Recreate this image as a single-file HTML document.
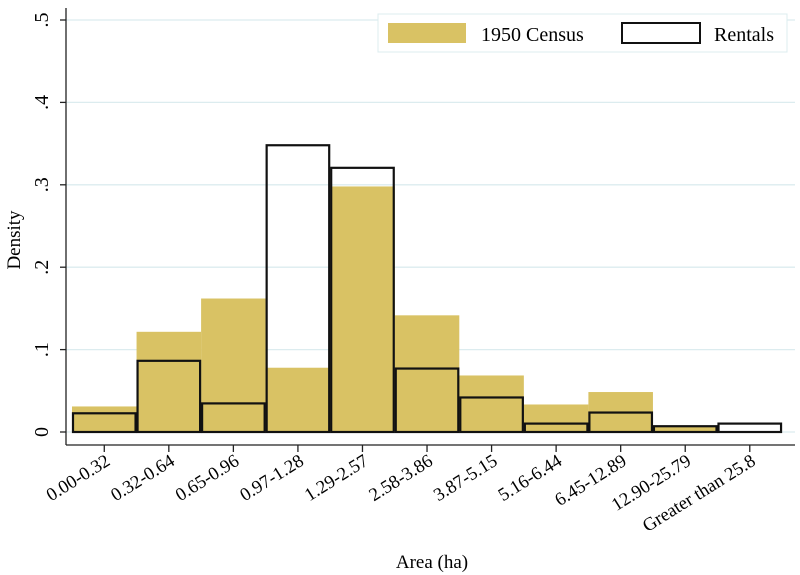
<!DOCTYPE html>
<html><head><meta charset="utf-8"><style>
body{margin:0;background:#fff;}
svg{display:block;font-family:"Liberation Serif",serif;}
</style></head><body>
<svg id="chart" width="800" height="575" viewBox="0 0 800 575">
<g id="grid"></g>
<g id="bars"></g>
<g id="axes"></g>
<g>
<rect x="378" y="14" width="409" height="38" fill="#fff" stroke="#dcecef" stroke-width="1"/>
<rect x="388" y="23" width="78" height="20" fill="#d9c264"/>
<text x="481" y="41" font-size="20">1950 Census</text>
<rect x="622" y="23" width="78" height="20" fill="#fff" stroke="#111" stroke-width="2"/>
<text x="714" y="41" font-size="20">Rentals</text>
</g>
<text x="0" y="0" font-size="19" transform="translate(20,240) rotate(-90)" text-anchor="middle">Density</text>
<text x="432" y="568" font-size="19" text-anchor="middle">Area (ha)</text>
</svg>
<script>
const categories=["0.00-0.32","0.32-0.64","0.65-0.96","0.97-1.28","1.29-2.57","2.58-3.86","3.87-5.15","5.16-6.44","6.45-12.89","12.90-25.79","Greater than 25.8"];
const census=[0.031,0.1216,0.162,0.078,0.298,0.1416,0.0686,0.0334,0.0485,0.008,0];
const rentals=[0.0227,0.0864,0.0347,0.348,0.3206,0.077,0.0419,0.0102,0.0236,0.007,0.0102];
const yTicks=[0,0.1,0.2,0.3,0.4,0.5];
const yTickLabels=["0",".1",".2",".3",".4",".5"];
const NS="http://www.w3.org/2000/svg";
const x0=72,bw=64.55,y0=432,yTop=20;
function xs(i){return x0+i*bw;}
function ys(v){return y0-v/0.5*(y0-yTop);}
function mk(t,a,p){const e=document.createElementNS(NS,t);for(const k in a)e.setAttribute(k,a[k]);p.appendChild(e);return e;}
const grid=document.getElementById('grid'),bars=document.getElementById('bars'),axes=document.getElementById('axes');
yTicks.forEach((v,i)=>{
  const g=mk('line',{x1:66,x2:795,y1:ys(v),y2:ys(v),stroke:'#dcecef','stroke-width':1.3},grid);
  
  
  const t=mk('line',{x1:60,x2:66,y1:ys(v),y2:ys(v),stroke:'#222','stroke-width':1.3},axes);
  
  
  const l=mk('text',{'font-size':20,'text-anchor':'middle',transform:`translate(48,${ys(v)}) rotate(-90)`},axes);
  l.textContent=yTickLabels[i];
  
  
});
census.forEach((v,i)=>{
  if(v<=0)return;
  const r=mk('rect',{x:xs(i),y:ys(v),width:bw,height:y0-ys(v),fill:'#d9c264'},bars);
  
  
});
rentals.forEach((v,i)=>{
  const r=mk('rect',{x:xs(i)+1,y:ys(v),width:bw-2,height:y0-ys(v),fill:'none',stroke:'#111','stroke-width':2.2},bars);
  
  
});
const ax=mk('line',{x1:66,x2:66,y1:8,y2:445,stroke:'#222','stroke-width':1.3},axes);


const bx=mk('line',{x1:66,x2:795,y1:445,y2:445,stroke:'#222','stroke-width':1.3},axes);


categories.forEach((c,i)=>{
  const cx=xs(i)+bw/2;
  const t=mk('line',{x1:cx,x2:cx,y1:445,y2:452,stroke:'#222','stroke-width':1.3},axes);
  
  
  const l=mk('text',{'font-size':18.5,'text-anchor':'end',transform:`translate(${cx+7},${464}) rotate(-32)`},axes);
  l.textContent=c;
  
  
});
</script>
</body></html>
